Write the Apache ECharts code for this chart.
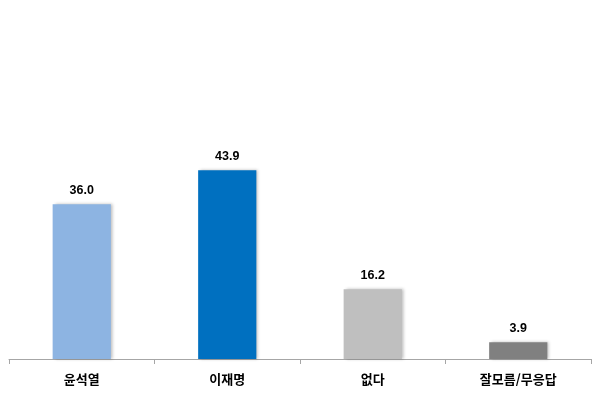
<!DOCTYPE html>
<html><head><meta charset="utf-8">
<script src="https://cdn.jsdelivr.net/npm/echarts@6/dist/echarts.min.js"></script>
<style>html,body{margin:0;padding:0;background:#fff}#c{width:600px;height:403px}</style>
</head><body><div id="c"></div>
<script>
const categories = ['윤석열', '이재명', '없다', '잘모름/무응답'];
const values = [36.0, 43.9, 16.2, 3.9];
const colors = ['#8DB4E2', '#0070C0', '#BFBFBF', '#808080'];

const chart = echarts.init(document.getElementById('c'));
chart.setOption({
  animation: false,
  backgroundColor: '#fff',
  grid: { left: 9, right: 9, top: 144, bottom: 44, containLabel: false },
  xAxis: {
    type: 'category',
    data: categories,
    axisLine: { lineStyle: { color: '#A6A6A6', width: 1 } },
    axisTick: { show: true, length: 5, lineStyle: { color: '#A6A6A6' } },
    axisLabel: { color: '#000', fontSize: 13, fontWeight: 'bold', margin: 14,
      fontFamily: '"Noto Sans CJK KR", sans-serif' }
  },
  yAxis: { type: 'value', min: 0, max: 50, show: false, splitLine: { show: false } },
  series: [{
    type: 'bar',
    barCategoryGap: '60%',
    data: values.map((v, i) => ({ value: v, itemStyle: { color: colors[i] } })),
    itemStyle: { shadowColor: 'rgba(0,0,0,0.25)', shadowBlur: 3, shadowOffsetX: 2, shadowOffsetY: 0 },
    label: { show: true, position: 'top', distance: 7, color: '#000', fontSize: 12.5, fontWeight: 'bold',
      fontFamily: 'Arial, "Liberation Sans", sans-serif',
      formatter: p => p.value.toFixed(1) }
  }]
});
</script></body></html>
